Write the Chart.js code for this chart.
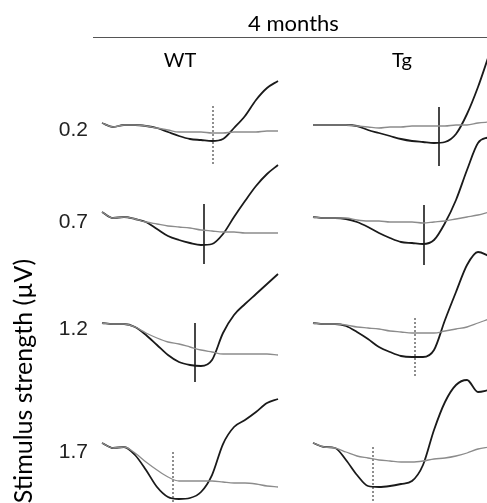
<!DOCTYPE html>
<html>
<head>
<meta charset="utf-8">
<script src="https://cdn.jsdelivr.net/npm/chart.js@4"></script>
<style>
html, body { margin: 0; padding: 0; background: #fff; overflow: hidden; }
</style>
</head>
<body>
<canvas id="traces" width="487" height="687"></canvas>
<script>
/* sample times (ms-ish, from trace start) and row / column labels */
var t = [0, 11, 22, 33, 44, 55, 66, 77, 88, 99, 110, 121, 132, 143, 154, 165, 176];
var stim = ['0.2', '0.7', '1.2', '1.7'];
var groups = ['WT', 'Tg'];

/* traces, amplitude relative to each trace's own baseline */
var wtDark02 = [2, -2, 0, 0, -1, -3, -7, -11, -14, -15, -16, -14, -3, 9, 25, 37, 44];
var wtGray02 = [2, -2, 0, 0, -1, -3, -5, -7, -7, -7, -8, -8, -7, -7, -7, -6, -6];
var wtDark07 = [5, -1, 0, -2, -5, -12, -19, -23, -26, -28, -27, -17, 0, 16, 31, 43, 52];
var wtGray07 = [5, -1, 0, -2, -5, -7, -9, -10, -11, -13, -14, -15, -15, -16, -16, -16, -16];
var wtDark12 = [1, 0, 0, -3, -11, -21, -31, -38, -41, -42, -36, -9, 9, 20, 30, 40, 50];
var wtGray12 = [1, 0, 0, -3, -9, -14, -18, -20, -23, -26, -28, -30, -30, -30, -30, -30, -31];
var wtDark17 = [4, -1, 0, -8, -23, -40, -50, -52, -51, -45, -28, 3, 20, 27, 35, 44, 48];
var wtGray17 = [4, -1, 0, -6, -15, -23, -30, -34, -34, -34, -34, -35, -36, -36, -37, -39, -40];

var tgDark02 = [0, 0, 0, 0, -1, -5, -8, -11, -14, -16, -17, -18, -17, -9, 11, 38, 70];
var tgGray02 = [0, 0, 0, 0, -1, -2, -3, -2, -2, -1, -1, -1, -1, 0, 0, 2, 3];
var tgDark07 = [0, -1, -1, -2, -5, -10, -16, -21, -25, -26, -27, -23, -6, 17, 47, 74, 80];
var tgGray07 = [0, -1, -1, -1, -3, -4, -4, -5, -5, -5, -6, -5, -4, -2, 0, 2, 5];
var tgDark12 = [1, 0, 0, -2, -8, -15, -23, -28, -32, -33, -33, -26, 4, 32, 59, 72, 68];
var tgGray12 = [1, 0, 0, -1, -3, -4, -5, -7, -8, -9, -9, -9, -7, -5, -3, 1, 5];
var tgDark17 = [4, 0, -1, -13, -28, -39, -40, -39, -37, -34, -18, 17, 45, 62, 67, 55, 57];
var tgGray17 = [4, 0, -1, -5, -9, -11, -13, -14, -15, -15, -14, -12, -11, -9, -6, -2, 0];

/* latency markers: time, top and bottom of the tick (per row) */
var wtMarkT = [111, 102, 93, 71];
var wtMarkTop = [19, 13, 1, -5];
var wtMarkBot = [-41, -47, -58, -70];
var tgMarkT = [126, 111, 102, 60];
var tgMarkTop = [18, 12, 6, 0];
var tgMarkBot = [-41, -48, -53, -65];

/* layout: where each row / column sits on the shared axes */
var rowBase = [0, -92, -199, -322];
var colShift = [0, 211];

var darkSets = [[wtDark02, wtDark07, wtDark12, wtDark17], [tgDark02, tgDark07, tgDark12, tgDark17]];
var graySets = [[wtGray02, wtGray07, wtGray12, wtGray17], [tgGray02, tgGray07, tgGray12, tgGray17]];
var marks = [[wtMarkT, wtMarkTop, wtMarkBot], [tgMarkT, tgMarkTop, tgMarkBot]];
var markDashed = [[true, false, false, true], [false, false, true, true]];

function pts(vals, col, row) {
  return t.map(function(tt, i) {
    return { x: tt + colShift[col], y: rowBase[row] + vals[i] };
  });
}

var datasets = [];
for (var c = 0; c < 2; c++) {
  for (var r = 0; r < 4; r++) {
    datasets.push({
      data: pts(graySets[c][r], c, r),
      borderColor: '#8c8c8c', borderWidth: 1.3,
      pointRadius: 0, cubicInterpolationMode: 'monotone', clip: false
    });
    datasets.push({
      data: pts(darkSets[c][r], c, r),
      borderColor: '#1a1a1a', borderWidth: 1.8,
      pointRadius: 0, cubicInterpolationMode: 'monotone', clip: false
    });
    var mx = marks[c][0][r] + colShift[c];
    datasets.push({
      data: [{ x: mx, y: rowBase[r] + marks[c][1][r] }, { x: mx, y: rowBase[r] + marks[c][2][r] }],
      borderColor: markDashed[c][r] ? '#444' : '#1a1a1a',
      borderWidth: markDashed[c][r] ? 1.2 : 1.6,
      borderDash: markDashed[c][r] ? [2, 2] : [],
      pointRadius: 0, tension: 0, clip: false
    });
  }
}

// rule under the "4 months" heading
var ruleLine = {
  id: 'ruleLine',
  afterDraw: function(chart) {
    var ctx = chart.ctx;
    var y = Math.round(chart.titleBlock.bottom) + 0.5;
    ctx.save();
    ctx.strokeStyle = '#555';
    ctx.lineWidth = 1;
    ctx.beginPath();
    ctx.moveTo(chart.chartArea.left - 7, y);
    ctx.lineTo(chart.width, y);
    ctx.stroke();
    ctx.restore();
  }
};

new Chart(document.getElementById('traces'), {
  type: 'line',
  data: { datasets: datasets },
  plugins: [ruleLine],
  options: {
    responsive: false,
    animation: false,
    devicePixelRatio: 1,
    plugins: {
      legend: { display: false },
      tooltip: { enabled: false },
      title: {
        display: true, text: '4 months', fullSize: false, color: '#000',
        font: { family: 'Lato', size: 22, weight: 'normal' },
        padding: { top: 11, bottom: 0 }
      }
    },
    scales: {
      x: { type: 'linear', display: false, min: -2, max: 385 },
      x2: {
        type: 'linear', position: 'top', min: -2, max: 385,
        grid: { display: false, drawTicks: false }, border: { display: false },
        afterBuildTicks: function(ax) { ax.ticks = [78, 300].map(function(v) { return { value: v }; }); },
        afterFit: function(ax) { ax.height = 37.6; ax.paddingLeft = 0; ax.paddingRight = 0; },
        ticks: {
          autoSkip: false, maxRotation: 0, padding: 2, color: '#000',
          font: { family: 'Lato', size: 20 },
          callback: function(v, i) { return groups[i]; }
        }
      },
      y: {
        type: 'linear', min: -562, max: 50,
        grid: { display: false, drawTicks: false }, border: { display: false },
        afterBuildTicks: function(ax) { ax.ticks = rowBase.map(function(v) { return { value: v }; }); },
        afterFit: function(ax) { ax.width = 100; ax.paddingTop = 0; ax.paddingBottom = 0; },
        ticks: {
          autoSkip: false, padding: 12, labelOffset: 5, color: '#222',
          font: { family: 'Liberation Sans', size: 21 },
          callback: function(v, i) { return stim[i]; }
        },
        title: {
          display: true, text: 'Stimulus strength (µV)', color: '#000',
          font: { family: 'Lato', size: 25 },
          padding: { top: 9, bottom: 0 }
        }
      }
    }
  }
});
</script>
</body>
</html>
